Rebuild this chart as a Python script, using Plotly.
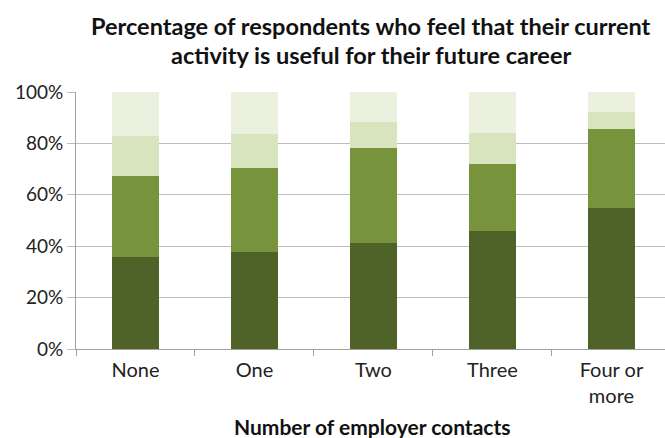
import plotly.graph_objects as go

categories = ["None", "One", "Two", "Three", "Four or<br>more"]
seg1 = [35.7, 37.9, 41.1, 46.0, 54.7]
seg2 = [31.7, 32.6, 37.2, 25.9, 30.9]
seg3 = [15.6, 13.0, 9.9, 12.0, 6.7]
seg4 = [17.0, 16.5, 11.8, 16.1, 7.7]
colors = ["#4f6228", "#77933c", "#d7e4bd", "#ebf1de"]
y_ticks = [0, 20, 40, 60, 80, 100]
y_labels = [f"{v}%" for v in y_ticks]
title_lines = ["Percentage of respondents who feel that their current",
               "activity is useful for their future career"]
x_title = "Number of employer contacts"

fig = go.Figure()
for vals, c in zip([seg1, seg2, seg3, seg4], colors):
    fig.add_trace(go.Bar(x=categories, y=vals, marker=dict(color=c, line=dict(width=0)),
                         showlegend=False))

font = "Lato, 'Open Sans', sans-serif"
annotations = []
for txt, yy in zip(title_lines, [1.256, 1.144]):
    annotations.append(dict(text=f"<b>{txt}</b>", xref="paper", yref="paper", x=0.5008, y=yy,
                            xanchor="center", yanchor="middle", showarrow=False,
                            font=dict(size=23.5, family=font, color="#111111")))
annotations.append(dict(text=f"<b>{x_title}</b>", xref="paper", yref="paper", x=0.504, y=-0.303,
                        xanchor="center", yanchor="middle", showarrow=False,
                        font=dict(size=21, family=font, color="#111111")))

fig.update_layout(
    barmode="stack",
    bargap=0.6,
    width=665, height=438,
    margin=dict(l=76, r=0, t=92, b=89),
    paper_bgcolor="white", plot_bgcolor="white",
    font=dict(family=font, color="#222222"),
    annotations=annotations,
    xaxis=dict(
        type="category", range=[-0.5, 4.45],
        tickson="boundaries", ticks="outside", ticklen=6, tickcolor="#a0a0a0",
        ticklabelstandoff=3,
        showline=True, linecolor="#a0a0a0", linewidth=1,
        showgrid=False,
        tickfont=dict(size=20, color="#222222"),
    ),
    yaxis=dict(
        range=[0, 100], tickmode="array", tickvals=y_ticks, ticktext=y_labels,
        ticks="outside", ticklen=8, tickcolor="#bdbdbd",
        showgrid=True, gridcolor="#bdbdbd", gridwidth=1,
        showline=True, linecolor="#a0a0a0", linewidth=1,
        zeroline=False,
        tickfont=dict(size=19, color="#222222"),
    ),
)

fig.write_html("out.html")
